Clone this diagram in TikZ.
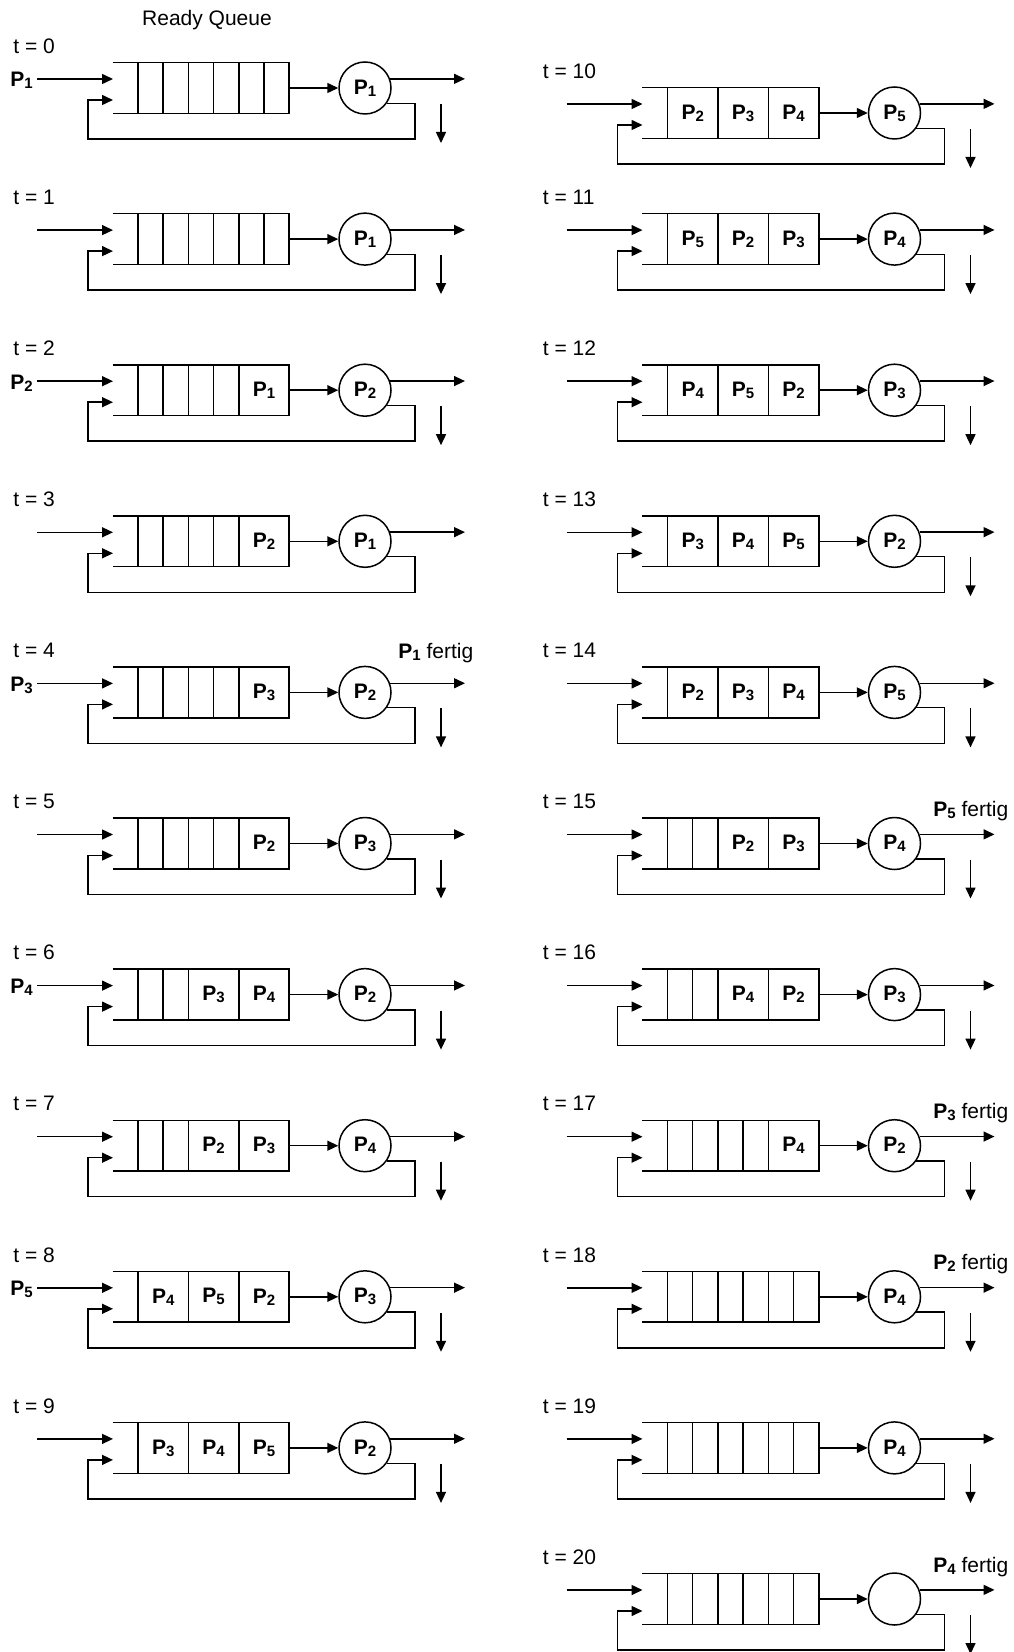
\documentclass[tikz,border=0pt]{standalone}
\usepackage{fontspec}
\setmainfont{Liberation Sans}
\usetikzlibrary{arrows.meta,calc}
\newcommand{\Pn}[1]{\textbf{P}\raisebox{-1pt}{\fontsize{7.5}{8}\selectfont\textbf{#1}}}
\tikzset{
 ln/.style={line width=0.75pt},
 arr/.style={ln,-{Triangle[length=5.5pt,width=5pt]}},
 txt/.style={inner sep=0pt, font=\fontsize{10.5}{12}\selectfont},
 qbox/.style={inner sep=0pt, minimum width=88pt, minimum height=25pt},
 cpu/.style={ln, draw, circle, inner sep=0pt, minimum size=26pt, font=\fontsize{10.5}{12}\selectfont},
}
\newcommand{\blk}[8]{%
\begin{scope}[shift={(#2,#3)}]
 \node[txt, anchor=west] (t#1) at (-100,-17) {t = #1};
 \node[qbox] (q#1) at (88,25) {};
 \draw[ln] (q#1.north west) -- (q#1.north east) -- (q#1.south east) -- (q#1.south west);
 \pgfmathtruncatemacro{\nEmpty}{6-2*#4}
 \foreach \i in {0,...,\nEmpty} {\draw[ln] (25+25.2*\i,0) -- (25+25.2*\i,50);}
 \ifnum#4>0
  \foreach \lab [count=\j] in {#5} {
   \draw[ln] (25+25.2*\nEmpty+50.4*\j,0) -- (25+25.2*\nEmpty+50.4*\j,50);
   \node[txt] (q#1c\j) at (25+25.2*\nEmpty+50.4*\j-25.2,25) {\Pn{\lab}};
  }
 \fi
 \node[cpu] (c#1) at (252,25) {#6};
 \draw[arr] (q#1.east) -- (c#1.west);
 \coordinate (o#1) at (352,16);
 \draw[arr] (c#1.20) -- (c#1.20 -| o#1);
 \coordinate (in#1) at (-76,16);
 \coordinate (ie#1) at (0,16);
 \draw[arr] (in#1) -- (ie#1);
 \def\tmpin{#7}\ifx\tmpin\empty\else
  \node[txt, anchor=base east] (il#1) at (-80,24) {#7};
 \fi
 \coordinate (lr#1) at (302,76);
 \coordinate (ll#1) at (-25,76);
 \coordinate (fb#1) at (0,37);
 \draw[arr] (c#1.-35) -- (c#1.-35 -| lr#1) -- (lr#1) -- (ll#1) -- (ll#1 |- fb#1) -- (fb#1);
 \ifnum#8=1
  \coordinate (d#1) at (328,41);
  \coordinate (de#1) at (328,80);
  \draw[arr] (d#1) -- (de#1);
 \fi
\end{scope}}
\begin{document}
\begin{tikzpicture}[x=0.5pt,y=-0.5pt]
\useasboundingbox (0,0) rectangle (1013,1652);
\node[txt, anchor=base] (rq) at (207,26) {Ready Queue};
\blk{0}{113}{63}{0}{}{\Pn{1}}{\Pn{1}}{1}
\blk{1}{113}{214.1}{0}{}{\Pn{1}}{}{1}
\blk{2}{113}{365.2}{1}{1}{\Pn{2}}{\Pn{2}}{1}
\blk{3}{113}{516.3}{1}{2}{\Pn{1}}{}{0}
\blk{4}{113}{667.4}{1}{3}{\Pn{2}}{\Pn{3}}{1}
\blk{5}{113}{818.5}{1}{2}{\Pn{3}}{}{1}
\blk{6}{113}{969.6}{2}{3,4}{\Pn{2}}{\Pn{4}}{1}
\blk{7}{113}{1120.7}{2}{2,3}{\Pn{4}}{}{1}
\blk{8}{113}{1271.8}{3}{4,5,2}{\Pn{3}}{\Pn{5}}{1}
\blk{9}{113}{1422.9}{3}{3,4,5}{\Pn{2}}{}{1}
\blk{10}{642.5}{88}{3}{2,3,4}{\Pn{5}}{}{1}
\blk{11}{642.5}{214.1}{3}{5,2,3}{\Pn{4}}{}{1}
\blk{12}{642.5}{365.2}{3}{4,5,2}{\Pn{3}}{}{1}
\blk{13}{642.5}{516.3}{3}{3,4,5}{\Pn{2}}{}{1}
\blk{14}{642.5}{667.4}{3}{2,3,4}{\Pn{5}}{}{1}
\blk{15}{642.5}{818.5}{2}{2,3}{\Pn{4}}{}{1}
\blk{16}{642.5}{969.6}{2}{4,2}{\Pn{3}}{}{1}
\blk{17}{642.5}{1120.7}{1}{4}{\Pn{2}}{}{1}
\blk{18}{642.5}{1271.8}{0}{}{\Pn{4}}{}{1}
\blk{19}{642.5}{1422.9}{0}{}{\Pn{4}}{}{1}
\blk{20}{642.5}{1574}{0}{}{}{}{1}
\node[txt, anchor=west] (f4) at (398,653) {\Pn{1} fertig};
\node[txt, anchor=west] (f15) at (933,811) {\Pn{5} fertig};
\node[txt, anchor=west] (f17) at (933,1113) {\Pn{3} fertig};
\node[txt, anchor=west] (f18) at (933,1264) {\Pn{2} fertig};
\node[txt, anchor=west] (f20) at (933,1567) {\Pn{4} fertig};
\end{tikzpicture}
\end{document}
